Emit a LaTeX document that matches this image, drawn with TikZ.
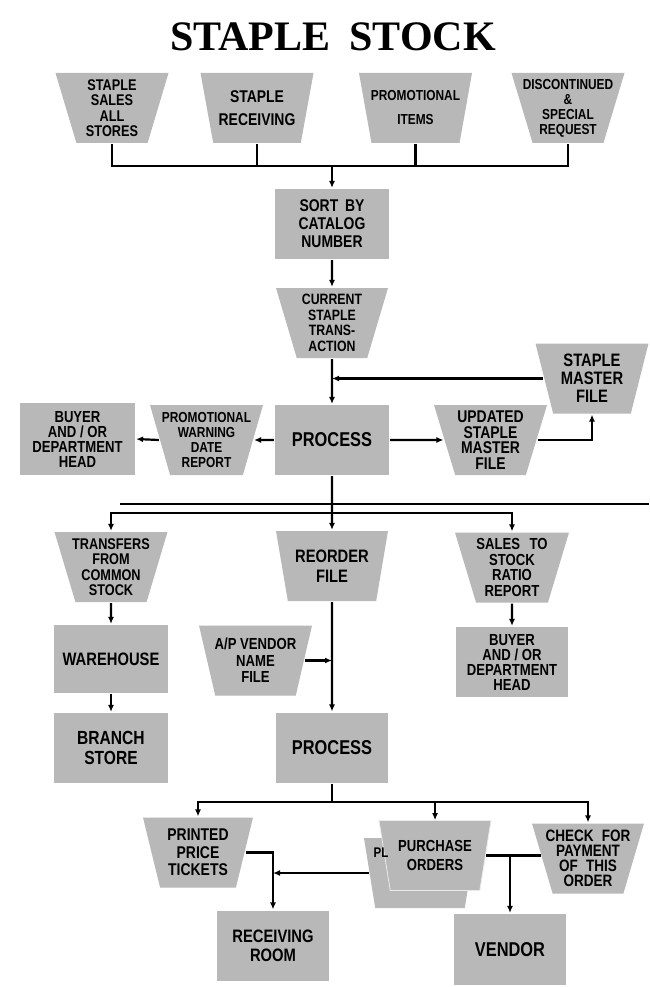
\documentclass[tikz,border=0pt]{standalone}
\usepackage{fontspec}
\newfontfamily\titlefont{Liberation Serif}
\newfontfamily\boxfont{Liberation Sans}[FakeStretch=0.82]
\usetikzlibrary{calc,
shapes.geometric,
arrows.meta,
positioning}
\definecolor{paper}{gray}{0.72}
\newcommand*{\fs}[2]{\boxfont\bfseries\fontsize{#1}{#2}\selectfont}

\begin{document}
\begin{tikzpicture} [x=1pt, y=-1pt,
    >={Latex[length=7pt,width=6pt]},
    line width=2.2pt,
    every node/.style={align=center, font=\fs{16}{15}},
    box/.style={rectangle, fill=paper, inner sep=0pt,
        minimum width=114pt, minimum height=70pt},
    file/.style={trapezium, trapezium left angle=110,
        trapezium right angle=110, trapezium stretches body,
        fill=paper, inner xsep=-25pt, inner ysep=0pt,
        minimum width=113pt, minimum height=70pt}
  ]

  \path[fill=white, use as bounding box] (0,0) rectangle (649,987);

  \node [font=\titlefont\bfseries\fontsize{42}{42}\selectfont] (title)
    at (333,37) {STAPLE\hspace{0.45em}STOCK};

  % inputs
  \node [file, font=\fs{15.5}{15.5}] (sales) at (112,108) {STAPLE\\SALES\\ALL\\STORES};
  \node [file, font=\fs{17}{23}] (recv) at (257,108) {STAPLE\\RECEIVING};
  \node [file, font=\fs{14.5}{24}] (promo) at (415.5,108) {PROMOTIONAL\\ITEMS};
  \node [file, font=\fs{14.5}{15}] (disc) at (568,108) {DISCONTINUED\\\&\\SPECIAL\\REQUEST};

  \coordinate (bus1) at (332,166);
  \draw (sales.south) |- (bus1) -| (disc.south);
  \draw (recv.south) -- (recv.south |- bus1);
  \draw (promo.south) -- (promo.south |- bus1);

  \node [box, font=\fs{17}{18}] (sort) at (332,224) {SORT\hspace{0.4em}BY\\CATALOG\\NUMBER};
  \draw [->] (bus1) -- (sort.north);

  \node [file, minimum width=112pt, font=\fs{15}{15.5}] (cur) at (332,323) {CURRENT\\STAPLE\\TRANS-\\ACTION};
  \draw [->] (sort.south) -- (cur.north);

  % first run
  \node [box, font=\fs{20}{20}] (proc) at (332,440) {PROCESS};
  \node [file, font=\fs{18}{18}] (master) at (592,378.5) {STAPLE\\MASTER\\FILE};
  \draw [->] (cur.south) -- (proc.north);
  \draw [->] (master.west) -- (master.west -| cur.south);

  \node [file, font=\fs{14.5}{15}] (warn) at (206.5,440) {PROMOTIONAL\\WARNING\\DATE\\REPORT};
  \node [box, minimum width=115pt, minimum height=72pt] (buyer1) at (77.5,439) {BUYER\\AND / OR\\DEPARTMENT\\HEAD};
  \node [file, font=\fs{17}{15.5}] (upd) at (490.5,440) {UPDATED\\STAPLE\\MASTER\\FILE};

  \draw [->] (proc.west) -- (warn.east);
  \draw [->] (warn.west) -- (buyer1.east);
  \draw [->] (proc.east) -- (upd.west);
  \draw [->] (upd.east) -| (master.south);

  \draw [line width=1.1pt] (120,504) -- (649,504);

  % outputs of the first run
  \coordinate (bus2) at (332,513);
  \node [file, font=\fs{15.5}{15.5}] (trans) at (111,567) {TRANSFERS\\FROM\\COMMON\\STOCK};
  \node [file, minimum width=112pt, font=\fs{18}{20}] (reorder) at (332,566) {REORDER\\FILE};
  \node [file, minimum width=114pt, font=\fs{16}{15.5}] (ratio) at (512,567.5) {SALES\hspace{0.6em}TO\\STOCK\\RATIO\\REPORT};

  \draw [->] (proc.south) -- (reorder.north);
  \draw [->] (bus2) -| (trans.north);
  \draw [->] (bus2) -| (ratio.north);

  \node [box, minimum height=68pt, font=\fs{18}{18}] (wareh) at (111,659) {WAREHOUSE};
  \node [file, font=\fs{16}{16.5}] (apv) at (255.5,660.5) {A/P VENDOR\\NAME\\FILE};
  \node [box, minimum width=112pt] (buyer2) at (512,662) {BUYER\\AND / OR\\DEPARTMENT\\HEAD};

  \draw [->] (trans.south) -- (wareh.north);
  \draw [->] (ratio.south) -- (buyer2.north);

  \node [box, font=\fs{19}{20}] (branch) at (111,748) {BRANCH\\STORE};
  \node [box, minimum width=112pt, font=\fs{20}{20}] (proc2) at (332,747.5) {PROCESS};

  \draw [->] (wareh.south) -- (branch.north);
  \draw [->] (reorder.south) -- (proc2.north);
  \draw [->] (apv.east) -- (apv.east -| reorder.south);

  % second run
  \coordinate (bus3) at (332,802);
  \draw (proc2.south) -- (bus3);

  \node [file, minimum width=110pt, font=\fs{17}{17.5}] (tickets) at (198,852.5) {PRINTED\\PRICE\\TICKETS};
  \node [file, minimum width=112pt, font=\fs{16}{19.5}] (pback) at (420,873) {\phantom{PURCHASE}\\\phantom{ORDERS}};
  \node [file, minimum width=112pt, font=\fs{16}{19.5},
    draw=white!70!paper, line width=0.8pt] (porder) at (435,855.5) {PURCHASE\\ORDERS};
  \node [font=\fs{14}{14}] (pl) at (381,853) {PL};
  \node [file, minimum width=112pt, font=\fs{16.5}{15}] (check) at (588,858.5) {CHECK\hspace{0.5em}FOR\\PAYMENT\\OF\hspace{0.5em}THIS\\ORDER};

  \draw [->] (bus3) -| (tickets.north);
  \draw [->] (bus3) -| (check.north);
  \draw [->] (bus3 -| porder.north) -- (porder.north);

  \node [box, minimum width=112pt, font=\fs{18}{19}] (recvroom) at (273,945.5) {RECEIVING\\ROOM};
  \node [box, minimum width=112pt, minimum height=71pt, font=\fs{20}{20}] (vendor) at (510,949.5) {VENDOR};

  \draw [->] (tickets.east) -| (recvroom.north);
  \draw [->] (pback.west) -- (pback.west -| recvroom.north);
  \draw (porder.east) -- (porder.east -| check.west);
  \draw [->] (porder.east -| vendor.north) -- (vendor.north);

\end{tikzpicture}
\end{document}
